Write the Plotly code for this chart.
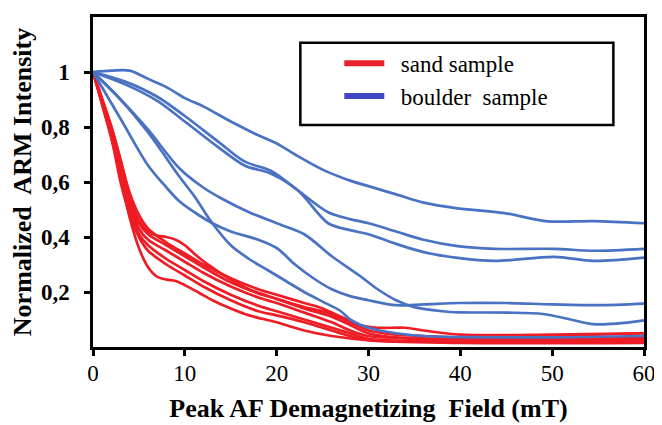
import plotly.graph_objects as go

# ---------------- data ----------------
blue_A_x = [0, 2, 4, 6, 8, 10, 12, 15, 18, 20, 22, 25, 28, 30, 33, 36, 39.5, 44.8, 49.5, 54.5, 60]
blue_A_y = [1.0, 1.005, 1.005, 0.975, 0.945, 0.905, 0.875, 0.82, 0.77, 0.74, 0.7, 0.645, 0.605, 0.585, 0.555, 0.525, 0.505, 0.487, 0.457, 0.458, 0.45]

blue_B_x = [0, 3.5, 7, 10, 13.7, 16.5, 19.4, 22.3, 25.6, 28, 30, 33, 36, 39.5, 43.8, 50.2, 54.5, 60]
blue_B_y = [1.0, 0.965, 0.91, 0.84, 0.745, 0.675, 0.64, 0.57, 0.49, 0.465, 0.45, 0.42, 0.39, 0.368, 0.357, 0.357, 0.35, 0.357]

blue_C_x = [0, 3.5, 7, 10, 13.7, 16.5, 19.4, 22.3, 25.6, 28, 30, 33, 36, 39.5, 43.8, 50.2, 54.5, 60]
blue_C_y = [1.0, 0.955, 0.895, 0.82, 0.725, 0.66, 0.63, 0.57, 0.45, 0.425, 0.41, 0.375, 0.345, 0.325, 0.313, 0.328, 0.313, 0.325]

blue_D_x = [0, 3, 6, 9.4, 12, 14, 17, 20, 23, 26, 29, 31, 33, 35, 38, 40, 45, 49, 52, 54.5, 57, 60]
blue_D_y = [1.0, 0.9, 0.79, 0.65, 0.58, 0.54, 0.49, 0.45, 0.41, 0.33, 0.26, 0.21, 0.17, 0.145, 0.13, 0.126, 0.125, 0.12, 0.1, 0.083, 0.085, 0.097]

blue_E_x = [0, 3, 6, 8, 9.4, 11.5, 13, 15, 18, 20, 22, 24, 26, 28, 30, 33, 36, 40, 45, 50, 55, 60]
blue_E_y = [1.0, 0.83, 0.66, 0.58, 0.53, 0.48, 0.45, 0.42, 0.39, 0.36, 0.3, 0.25, 0.21, 0.185, 0.17, 0.152, 0.155, 0.16, 0.16, 0.155, 0.152, 0.158]

blue_F_x = [0, 3, 6, 9.4, 11, 13, 15, 17, 19, 21, 23, 25, 27, 28, 30, 33, 36, 40, 50, 60]
blue_F_y = [1.0, 0.9, 0.78, 0.62, 0.55, 0.45, 0.37, 0.32, 0.28, 0.24, 0.2, 0.165, 0.13, 0.1, 0.07, 0.05, 0.04, 0.036, 0.035, 0.04]

red_1_x = [0, 1, 2, 3, 4, 5, 6, 7, 8, 9, 10, 11.5, 13, 15, 17, 20, 23, 26, 30, 35, 40, 50, 60]
red_1_y = [1.0, 0.88, 0.76, 0.62, 0.47, 0.36, 0.29, 0.255, 0.245, 0.24, 0.225, 0.198, 0.17, 0.14, 0.115, 0.09, 0.06, 0.04, 0.025, 0.02, 0.02, 0.02, 0.02]

red_2_x = [0, 1, 2, 3, 4, 5, 6, 7, 8, 9, 10, 11, 12.3, 15, 17, 20, 23, 25.5, 28, 30, 33, 36, 40, 50, 60]
red_2_y = [1.0, 0.9, 0.8, 0.68, 0.55, 0.46, 0.42, 0.405, 0.4, 0.39, 0.37, 0.34, 0.305, 0.245, 0.21, 0.175, 0.145, 0.125, 0.09, 0.06, 0.045, 0.04, 0.035, 0.04, 0.05]

red_3_x = [0, 2, 3, 4, 5, 6, 8, 10, 12, 15, 18, 20, 23, 25, 27, 29, 31, 34, 36, 40, 50, 60]
red_3_y = [1.0, 0.8, 0.68, 0.56, 0.48, 0.43, 0.38, 0.34, 0.3, 0.25, 0.21, 0.19, 0.16, 0.14, 0.11, 0.08, 0.07, 0.07, 0.06, 0.045, 0.045, 0.05]

red_4_x = [0, 2, 3, 4, 5, 6, 8, 10, 12, 15, 18, 20, 23, 26, 28, 30, 33, 40, 60]
red_4_y = [1.0, 0.79, 0.66, 0.54, 0.45, 0.41, 0.37, 0.33, 0.29, 0.235, 0.195, 0.175, 0.14, 0.11, 0.08, 0.05, 0.035, 0.03, 0.035]

red_5_x = [0, 2, 3, 4, 5, 6, 8, 10, 12, 15, 18, 20, 23, 26, 28, 30, 35, 60]
red_5_y = [1.0, 0.78, 0.64, 0.52, 0.43, 0.39, 0.35, 0.31, 0.27, 0.22, 0.18, 0.16, 0.125, 0.09, 0.06, 0.04, 0.03, 0.03]

red_6_x = [0, 2, 3, 4, 5, 6, 8, 10, 12, 15, 18, 20, 23, 26, 28, 30, 40, 60]
red_6_y = [1.0, 0.77, 0.62, 0.5, 0.41, 0.37, 0.32, 0.28, 0.24, 0.19, 0.15, 0.13, 0.1, 0.07, 0.05, 0.03, 0.02, 0.025]

red_7_x = [0, 2, 3, 4, 5, 6, 8, 10, 12, 15, 18, 20, 23, 26, 28, 30, 40, 60]
red_7_y = [1.0, 0.76, 0.6, 0.48, 0.4, 0.35, 0.3, 0.26, 0.22, 0.17, 0.13, 0.115, 0.09, 0.06, 0.04, 0.025, 0.015, 0.015]

x_ticks = [0, 10, 20, 30, 40, 50, 60]
y_ticks = [0.2, 0.4, 0.6, 0.8, 1.0]
y_tick_labels = ["0,2", "0,4", "0,6", "0,8", "1"]

legend_labels = ["\u00a0\u00a0sand sample", "\u00a0\u00a0boulder  sample"]

# ---------------- figure ----------------
BLUE = "#4a72c2"
RED = "#ee1c25"
LEG_RED = "#e8202a"
LEG_BLUE = "#4048c4"
SERIF = "Liberation Serif, Times New Roman, serif"

fig = go.Figure()

blue_series = [(blue_A_x, blue_A_y), (blue_B_x, blue_B_y), (blue_C_x, blue_C_y),
               (blue_D_x, blue_D_y), (blue_E_x, blue_E_y), (blue_F_x, blue_F_y)]
red_series = [(red_1_x, red_1_y), (red_2_x, red_2_y), (red_3_x, red_3_y), (red_4_x, red_4_y),
              (red_5_x, red_5_y), (red_6_x, red_6_y), (red_7_x, red_7_y)]

for xs, ys in red_series:
    fig.add_trace(go.Scatter(x=xs, y=ys, mode="lines", showlegend=False, hoverinfo="skip",
                             line=dict(color=RED, width=2.7, shape="spline", smoothing=0.9)))
for xs, ys in blue_series:
    fig.add_trace(go.Scatter(x=xs, y=ys, mode="lines", showlegend=False, hoverinfo="skip",
                             line=dict(color=BLUE, width=2.7, shape="spline", smoothing=0.9)))

# legend entries
fig.add_trace(go.Scatter(x=[None], y=[None], mode="lines", name=legend_labels[0],
                         line=dict(color=LEG_RED, width=6)))
fig.add_trace(go.Scatter(x=[None], y=[None], mode="lines", name=legend_labels[1],
                         line=dict(color=LEG_BLUE, width=6)))

title_font = dict(family=SERIF, size=26, color="black")
tick_font = dict(family=SERIF, size=23, color="black")

# the page body has an 8px margin, so the figure is sized/offset to compensate
fig.update_layout(
    width=654, height=417,
    font=dict(family=SERIF, color="black"),
    margin=dict(l=85, r=12, t=6, b=78),
    paper_bgcolor="white", plot_bgcolor="white",
    showlegend=True,
    legend=dict(x=0.447, y=0.925, xanchor="left", yanchor="top",
                bgcolor="rgba(0,0,0,0)", borderwidth=0,
                font=dict(family=SERIF, size=23, color="black"),
                itemwidth=40, tracegroupgap=0),
    xaxis=dict(range=[0, 60], tickvals=x_ticks, ticks="outside", ticklen=6, tickwidth=2.5,
               tickcolor="black", showline=True, linewidth=2.5, linecolor="black", mirror=True,
               showgrid=False, zeroline=False, tickfont=tick_font,
               tickprefix="<b>", ticksuffix="</b>", ticklabelstandoff=-2,
               title=dict(text="<b>Peak AF Demagnetizing  Field (mT)</b>", font=title_font, standoff=14)),
    yaxis=dict(range=[0, 1.2], tickvals=y_ticks, ticktext=["<b>%s</b>" % t for t in y_tick_labels],
               ticks="outside", ticklen=6, tickwidth=2.5, tickcolor="black", showline=True,
               linewidth=2.5, linecolor="black", mirror=True, showgrid=False, zeroline=False,
               tickfont=tick_font, ticklabelstandoff=10,
               title=dict(text="<b>Normalized  ARM Intensity</b>", font=title_font, standoff=3)),
    shapes=[dict(type="rect", xref="paper", yref="paper", x0=0.3763, x1=0.9444, y0=0.6727, y1=0.9219,
                 line=dict(color="black", width=2.5), fillcolor="rgba(0,0,0,0)")],
)

fig.write_html("out.html")
